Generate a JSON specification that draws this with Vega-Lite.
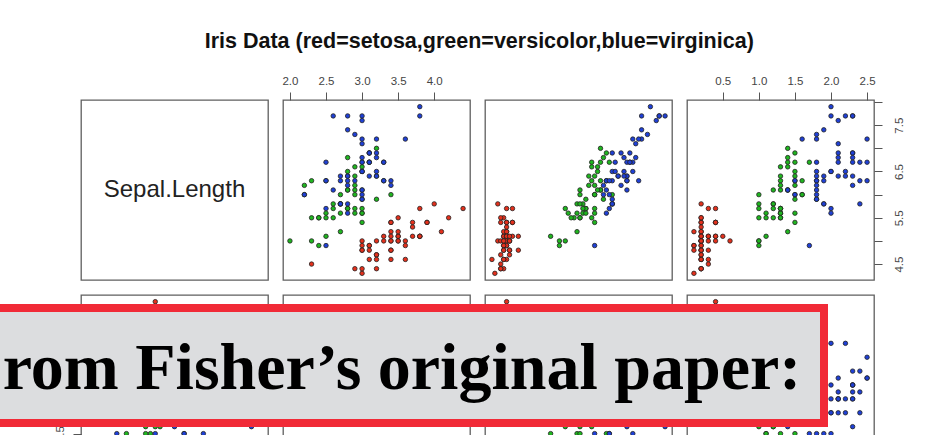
{
"$schema":"https://vega.github.io/schema/vega-lite/v6.json",
"autosize":{"type":"pad"},
"padding":{"left":-25,"top":30,"right":0,"bottom":0},
"background":"#ffffff",
"bounds":"flush",
"columns":5,
"spacing":15,
"title":{"text":"Iris Data (red=setosa,green=versicolor,blue=virginica)","font":"Liberation Sans","fontSize":21.5,"fontWeight":"bold","color":"#111111","anchor":"middle","frame":"bounds","dx":39,"offset":5,"baseline":"alphabetic"},
"config":{"view":{"stroke":"#5f5f5f","strokeWidth":1.3},"axis":{"domain":false,"grid":false,"ticks":true,"tickColor":"#555555","tickSize":8,"tickWidth":1,"labelFont":"Liberation Sans","labelFontSize":11.5,"labelColor":"#444444","labelFlush":false,"labelOverlap":false,"title":null}},
"datasets":{"iris":[
{"sl":5.1,"sw":3.5,"pl":1.4,"pw":0.2,"s":"setosa"},{"sl":4.9,"sw":3.0,"pl":1.4,"pw":0.2,"s":"setosa"},{"sl":4.7,"sw":3.2,"pl":1.3,"pw":0.2,"s":"setosa"},{"sl":4.6,"sw":3.1,"pl":1.5,"pw":0.2,"s":"setosa"},{"sl":5.0,"sw":3.6,"pl":1.4,"pw":0.2,"s":"setosa"},
{"sl":5.4,"sw":3.9,"pl":1.7,"pw":0.4,"s":"setosa"},{"sl":4.6,"sw":3.4,"pl":1.4,"pw":0.3,"s":"setosa"},{"sl":5.0,"sw":3.4,"pl":1.5,"pw":0.2,"s":"setosa"},{"sl":4.4,"sw":2.9,"pl":1.4,"pw":0.2,"s":"setosa"},{"sl":4.9,"sw":3.1,"pl":1.5,"pw":0.1,"s":"setosa"},
{"sl":5.4,"sw":3.7,"pl":1.5,"pw":0.2,"s":"setosa"},{"sl":4.8,"sw":3.4,"pl":1.6,"pw":0.2,"s":"setosa"},{"sl":4.8,"sw":3.0,"pl":1.4,"pw":0.1,"s":"setosa"},{"sl":4.3,"sw":3.0,"pl":1.1,"pw":0.1,"s":"setosa"},{"sl":5.8,"sw":4.0,"pl":1.2,"pw":0.2,"s":"setosa"},
{"sl":5.7,"sw":4.4,"pl":1.5,"pw":0.4,"s":"setosa"},{"sl":5.4,"sw":3.9,"pl":1.3,"pw":0.4,"s":"setosa"},{"sl":5.1,"sw":3.5,"pl":1.4,"pw":0.3,"s":"setosa"},{"sl":5.7,"sw":3.8,"pl":1.7,"pw":0.3,"s":"setosa"},{"sl":5.1,"sw":3.8,"pl":1.5,"pw":0.3,"s":"setosa"},
{"sl":5.4,"sw":3.4,"pl":1.7,"pw":0.2,"s":"setosa"},{"sl":5.1,"sw":3.7,"pl":1.5,"pw":0.4,"s":"setosa"},{"sl":4.6,"sw":3.6,"pl":1.0,"pw":0.2,"s":"setosa"},{"sl":5.1,"sw":3.3,"pl":1.7,"pw":0.5,"s":"setosa"},{"sl":4.8,"sw":3.4,"pl":1.9,"pw":0.2,"s":"setosa"},
{"sl":5.0,"sw":3.0,"pl":1.6,"pw":0.2,"s":"setosa"},{"sl":5.0,"sw":3.4,"pl":1.6,"pw":0.4,"s":"setosa"},{"sl":5.2,"sw":3.5,"pl":1.5,"pw":0.2,"s":"setosa"},{"sl":5.2,"sw":3.4,"pl":1.4,"pw":0.2,"s":"setosa"},{"sl":4.7,"sw":3.2,"pl":1.6,"pw":0.2,"s":"setosa"},
{"sl":4.8,"sw":3.1,"pl":1.6,"pw":0.2,"s":"setosa"},{"sl":5.4,"sw":3.4,"pl":1.5,"pw":0.4,"s":"setosa"},{"sl":5.2,"sw":4.1,"pl":1.5,"pw":0.1,"s":"setosa"},{"sl":5.5,"sw":4.2,"pl":1.4,"pw":0.2,"s":"setosa"},{"sl":4.9,"sw":3.1,"pl":1.5,"pw":0.2,"s":"setosa"},
{"sl":5.0,"sw":3.2,"pl":1.2,"pw":0.2,"s":"setosa"},{"sl":5.5,"sw":3.5,"pl":1.3,"pw":0.2,"s":"setosa"},{"sl":4.9,"sw":3.6,"pl":1.4,"pw":0.1,"s":"setosa"},{"sl":4.4,"sw":3.0,"pl":1.3,"pw":0.2,"s":"setosa"},{"sl":5.1,"sw":3.4,"pl":1.5,"pw":0.2,"s":"setosa"},
{"sl":5.0,"sw":3.5,"pl":1.3,"pw":0.3,"s":"setosa"},{"sl":4.5,"sw":2.3,"pl":1.3,"pw":0.3,"s":"setosa"},{"sl":4.4,"sw":3.2,"pl":1.3,"pw":0.2,"s":"setosa"},{"sl":5.0,"sw":3.5,"pl":1.6,"pw":0.6,"s":"setosa"},{"sl":5.1,"sw":3.8,"pl":1.9,"pw":0.4,"s":"setosa"},
{"sl":4.8,"sw":3.0,"pl":1.4,"pw":0.3,"s":"setosa"},{"sl":5.1,"sw":3.8,"pl":1.6,"pw":0.2,"s":"setosa"},{"sl":4.6,"sw":3.2,"pl":1.4,"pw":0.2,"s":"setosa"},{"sl":5.3,"sw":3.7,"pl":1.5,"pw":0.2,"s":"setosa"},{"sl":5.0,"sw":3.3,"pl":1.4,"pw":0.2,"s":"setosa"},
{"sl":7.0,"sw":3.2,"pl":4.7,"pw":1.4,"s":"versicolor"},{"sl":6.4,"sw":3.2,"pl":4.5,"pw":1.5,"s":"versicolor"},{"sl":6.9,"sw":3.1,"pl":4.9,"pw":1.5,"s":"versicolor"},{"sl":5.5,"sw":2.3,"pl":4.0,"pw":1.3,"s":"versicolor"},{"sl":6.5,"sw":2.8,"pl":4.6,"pw":1.5,"s":"versicolor"},
{"sl":5.7,"sw":2.8,"pl":4.5,"pw":1.3,"s":"versicolor"},{"sl":6.3,"sw":3.3,"pl":4.7,"pw":1.6,"s":"versicolor"},{"sl":4.9,"sw":2.4,"pl":3.3,"pw":1.0,"s":"versicolor"},{"sl":6.6,"sw":2.9,"pl":4.6,"pw":1.3,"s":"versicolor"},{"sl":5.2,"sw":2.7,"pl":3.9,"pw":1.4,"s":"versicolor"},
{"sl":5.0,"sw":2.0,"pl":3.5,"pw":1.0,"s":"versicolor"},{"sl":5.9,"sw":3.0,"pl":4.2,"pw":1.5,"s":"versicolor"},{"sl":6.0,"sw":2.2,"pl":4.0,"pw":1.0,"s":"versicolor"},{"sl":6.1,"sw":2.9,"pl":4.7,"pw":1.4,"s":"versicolor"},{"sl":5.6,"sw":2.9,"pl":3.6,"pw":1.3,"s":"versicolor"},
{"sl":6.7,"sw":3.1,"pl":4.4,"pw":1.4,"s":"versicolor"},{"sl":5.6,"sw":3.0,"pl":4.5,"pw":1.5,"s":"versicolor"},{"sl":5.8,"sw":2.7,"pl":4.1,"pw":1.0,"s":"versicolor"},{"sl":6.2,"sw":2.2,"pl":4.5,"pw":1.5,"s":"versicolor"},{"sl":5.6,"sw":2.5,"pl":3.9,"pw":1.1,"s":"versicolor"},
{"sl":5.9,"sw":3.2,"pl":4.8,"pw":1.8,"s":"versicolor"},{"sl":6.1,"sw":2.8,"pl":4.0,"pw":1.3,"s":"versicolor"},{"sl":6.3,"sw":2.5,"pl":4.9,"pw":1.5,"s":"versicolor"},{"sl":6.1,"sw":2.8,"pl":4.7,"pw":1.2,"s":"versicolor"},{"sl":6.4,"sw":2.9,"pl":4.3,"pw":1.3,"s":"versicolor"},
{"sl":6.6,"sw":3.0,"pl":4.4,"pw":1.4,"s":"versicolor"},{"sl":6.8,"sw":2.8,"pl":4.8,"pw":1.4,"s":"versicolor"},{"sl":6.7,"sw":3.0,"pl":5.0,"pw":1.7,"s":"versicolor"},{"sl":6.0,"sw":2.9,"pl":4.5,"pw":1.5,"s":"versicolor"},{"sl":5.7,"sw":2.6,"pl":3.5,"pw":1.0,"s":"versicolor"},
{"sl":5.5,"sw":2.4,"pl":3.8,"pw":1.1,"s":"versicolor"},{"sl":5.5,"sw":2.4,"pl":3.7,"pw":1.0,"s":"versicolor"},{"sl":5.8,"sw":2.7,"pl":3.9,"pw":1.2,"s":"versicolor"},{"sl":6.0,"sw":2.7,"pl":5.1,"pw":1.6,"s":"versicolor"},{"sl":5.4,"sw":3.0,"pl":4.5,"pw":1.5,"s":"versicolor"},
{"sl":6.0,"sw":3.4,"pl":4.5,"pw":1.6,"s":"versicolor"},{"sl":6.7,"sw":3.1,"pl":4.7,"pw":1.5,"s":"versicolor"},{"sl":6.3,"sw":2.3,"pl":4.4,"pw":1.3,"s":"versicolor"},{"sl":5.6,"sw":3.0,"pl":4.1,"pw":1.3,"s":"versicolor"},{"sl":5.5,"sw":2.5,"pl":4.0,"pw":1.3,"s":"versicolor"},
{"sl":5.5,"sw":2.6,"pl":4.4,"pw":1.2,"s":"versicolor"},{"sl":6.1,"sw":3.0,"pl":4.6,"pw":1.4,"s":"versicolor"},{"sl":5.8,"sw":2.6,"pl":4.0,"pw":1.2,"s":"versicolor"},{"sl":5.0,"sw":2.3,"pl":3.3,"pw":1.0,"s":"versicolor"},{"sl":5.6,"sw":2.7,"pl":4.2,"pw":1.3,"s":"versicolor"},
{"sl":5.7,"sw":3.0,"pl":4.2,"pw":1.2,"s":"versicolor"},{"sl":5.7,"sw":2.9,"pl":4.2,"pw":1.3,"s":"versicolor"},{"sl":6.2,"sw":2.9,"pl":4.3,"pw":1.3,"s":"versicolor"},{"sl":5.1,"sw":2.5,"pl":3.0,"pw":1.1,"s":"versicolor"},{"sl":5.7,"sw":2.8,"pl":4.1,"pw":1.3,"s":"versicolor"},
{"sl":6.3,"sw":3.3,"pl":6.0,"pw":2.5,"s":"virginica"},{"sl":5.8,"sw":2.7,"pl":5.1,"pw":1.9,"s":"virginica"},{"sl":7.1,"sw":3.0,"pl":5.9,"pw":2.1,"s":"virginica"},{"sl":6.3,"sw":2.9,"pl":5.6,"pw":1.8,"s":"virginica"},{"sl":6.5,"sw":3.0,"pl":5.8,"pw":2.2,"s":"virginica"},
{"sl":7.6,"sw":3.0,"pl":6.6,"pw":2.1,"s":"virginica"},{"sl":4.9,"sw":2.5,"pl":4.5,"pw":1.7,"s":"virginica"},{"sl":7.3,"sw":2.9,"pl":6.3,"pw":1.8,"s":"virginica"},{"sl":6.7,"sw":2.5,"pl":5.8,"pw":1.8,"s":"virginica"},{"sl":7.2,"sw":3.6,"pl":6.1,"pw":2.5,"s":"virginica"},
{"sl":6.5,"sw":3.2,"pl":5.1,"pw":2.0,"s":"virginica"},{"sl":6.4,"sw":2.7,"pl":5.3,"pw":1.9,"s":"virginica"},{"sl":6.8,"sw":3.0,"pl":5.5,"pw":2.1,"s":"virginica"},{"sl":5.7,"sw":2.5,"pl":5.0,"pw":2.0,"s":"virginica"},{"sl":5.8,"sw":2.8,"pl":5.1,"pw":2.4,"s":"virginica"},
{"sl":6.4,"sw":3.2,"pl":5.3,"pw":2.3,"s":"virginica"},{"sl":6.5,"sw":3.0,"pl":5.5,"pw":1.8,"s":"virginica"},{"sl":7.7,"sw":3.8,"pl":6.7,"pw":2.2,"s":"virginica"},{"sl":7.7,"sw":2.6,"pl":6.9,"pw":2.3,"s":"virginica"},{"sl":6.0,"sw":2.2,"pl":5.0,"pw":1.5,"s":"virginica"},
{"sl":6.9,"sw":3.2,"pl":5.7,"pw":2.3,"s":"virginica"},{"sl":5.6,"sw":2.8,"pl":4.9,"pw":2.0,"s":"virginica"},{"sl":7.7,"sw":2.8,"pl":6.7,"pw":2.0,"s":"virginica"},{"sl":6.3,"sw":2.7,"pl":4.9,"pw":1.8,"s":"virginica"},{"sl":6.7,"sw":3.3,"pl":5.7,"pw":2.1,"s":"virginica"},
{"sl":7.2,"sw":3.2,"pl":6.0,"pw":1.8,"s":"virginica"},{"sl":6.2,"sw":2.8,"pl":4.8,"pw":1.8,"s":"virginica"},{"sl":6.1,"sw":3.0,"pl":4.9,"pw":1.8,"s":"virginica"},{"sl":6.4,"sw":2.8,"pl":5.6,"pw":2.1,"s":"virginica"},{"sl":7.2,"sw":3.0,"pl":5.8,"pw":1.6,"s":"virginica"},
{"sl":7.4,"sw":2.8,"pl":6.1,"pw":1.9,"s":"virginica"},{"sl":7.9,"sw":3.8,"pl":6.4,"pw":2.0,"s":"virginica"},{"sl":6.4,"sw":2.8,"pl":5.6,"pw":2.2,"s":"virginica"},{"sl":6.3,"sw":2.8,"pl":5.1,"pw":1.5,"s":"virginica"},{"sl":6.1,"sw":2.6,"pl":5.6,"pw":1.4,"s":"virginica"},
{"sl":7.7,"sw":3.0,"pl":6.1,"pw":2.3,"s":"virginica"},{"sl":6.3,"sw":3.4,"pl":5.6,"pw":2.4,"s":"virginica"},{"sl":6.4,"sw":3.1,"pl":5.5,"pw":1.8,"s":"virginica"},{"sl":6.0,"sw":3.0,"pl":4.8,"pw":1.8,"s":"virginica"},{"sl":6.9,"sw":3.1,"pl":5.4,"pw":2.1,"s":"virginica"},
{"sl":6.7,"sw":3.1,"pl":5.6,"pw":2.4,"s":"virginica"},{"sl":6.9,"sw":3.1,"pl":5.1,"pw":2.3,"s":"virginica"},{"sl":5.8,"sw":2.7,"pl":5.1,"pw":1.9,"s":"virginica"},{"sl":6.8,"sw":3.2,"pl":5.9,"pw":2.3,"s":"virginica"},{"sl":6.7,"sw":3.3,"pl":5.7,"pw":2.5,"s":"virginica"},
{"sl":6.7,"sw":3.0,"pl":5.2,"pw":2.3,"s":"virginica"},{"sl":6.3,"sw":2.5,"pl":5.0,"pw":1.9,"s":"virginica"},{"sl":6.5,"sw":3.0,"pl":5.2,"pw":2.0,"s":"virginica"},{"sl":6.2,"sw":3.4,"pl":5.4,"pw":2.3,"s":"virginica"},{"sl":5.9,"sw":3.0,"pl":5.1,"pw":1.8,"s":"virginica"}
]},
"concat":[
   {"width":86,"height":180,"view":{"stroke":null},"data":{"values":[{"t":""}]},"mark":{"type":"text"},"encoding":{"text":{"field":"t"}}},
   {"width":187,"height":180,"view":{"stroke":"#5f5f5f","strokeWidth":1.3},"data":{"values":[{"t":"Sepal.Length"}]},"mark":{"type":"text","font":"Liberation Sans","fontSize":24,"color":"#222222"},"encoding":{"text":{"field":"t"}}},
   {"width":187,"height":180,"data":{"name":"iris"},"mark":{"type":"circle","size":20,"stroke":"#222222","strokeWidth":0.8,"opacity":1},
    "encoding":{"x":{"field":"sw","type":"quantitative","scale":{"domain":[1.904,4.496],"nice":false,"zero":false},"axis":{"orient":"top","values":[2.0,2.5,3.0,3.5,4.0],"format":".1f","labelPadding":6}},
     "y":{"field":"sl","type":"quantitative","scale":{"domain":[4.156,8.044],"nice":false,"zero":false},"axis":null},
     "color":{"field":"s","type":"nominal","scale":{"domain":["setosa","versicolor","virginica"],"range":["#e3301c","#1fb51f","#1f40d6"]},"legend":null}}},
   {"width":187,"height":180,"data":{"name":"iris"},"mark":{"type":"circle","size":20,"stroke":"#222222","strokeWidth":0.8,"opacity":1},
    "encoding":{"x":{"field":"pl","type":"quantitative","scale":{"domain":[0.764,7.136],"nice":false,"zero":false},"axis":null},
     "y":{"field":"sl","type":"quantitative","scale":{"domain":[4.156,8.044],"nice":false,"zero":false},"axis":null},
     "color":{"field":"s","type":"nominal","legend":null}}},
   {"width":187,"height":180,"data":{"name":"iris"},"mark":{"type":"circle","size":20,"stroke":"#222222","strokeWidth":0.8,"opacity":1},
    "encoding":{"x":{"field":"pw","type":"quantitative","scale":{"domain":[0.004,2.596],"nice":false,"zero":false},"axis":{"orient":"top","values":[0.5,1.0,1.5,2.0,2.5],"format":".1f","labelPadding":6}},
     "y":{"field":"sl","type":"quantitative","scale":{"domain":[4.156,8.044],"nice":false,"zero":false},"axis":{"orient":"right","values":[4.5,5.0,5.5,6.0,6.5,7.0,7.5,8.0],"labelExpr":"(datum.value * 2) % 2 == 1 ? format(datum.value, '.1f') : ''","labelAngle":270,"labelAlign":"center","labelBaseline":"top","labelPadding":11}},
     "color":{"field":"s","type":"nominal","legend":null}}},
   {"width":86,"height":180,"view":{"stroke":null},"data":{"values":[{"t":""}]},"mark":{"type":"text"},"encoding":{"text":{"field":"t"}}},
   {"width":187,"height":180,"data":{"name":"iris"},"mark":{"type":"circle","size":20,"stroke":"#222222","strokeWidth":0.8,"opacity":1},
    "encoding":{"x":{"field":"sl","type":"quantitative","scale":{"domain":[4.156,8.044],"nice":false,"zero":false},"axis":null},
     "y":{"field":"sw","type":"quantitative","scale":{"domain":[1.904,4.496],"nice":false,"zero":false},"axis":{"orient":"left","values":[2.0,2.5,3.0,3.5,4.0],"format":".1f","labelAngle":270,"labelAlign":"center","labelBaseline":"bottom","labelPadding":8}},
     "color":{"field":"s","type":"nominal","legend":null}}},
   {"width":187,"height":180,"view":{"stroke":"#5f5f5f","strokeWidth":1.3},"data":{"values":[{"t":"Sepal.Width"}]},"mark":{"type":"text","font":"Liberation Sans","fontSize":24,"color":"#222222"},"encoding":{"text":{"field":"t"}}},
   {"width":187,"height":180,"data":{"name":"iris"},"mark":{"type":"circle","size":20,"stroke":"#222222","strokeWidth":0.8,"opacity":1},
    "encoding":{"x":{"field":"pl","type":"quantitative","scale":{"domain":[0.764,7.136],"nice":false,"zero":false},"axis":null},
     "y":{"field":"sw","type":"quantitative","scale":{"domain":[1.904,4.496],"nice":false,"zero":false},"axis":null},
     "color":{"field":"s","type":"nominal","legend":null}}},
   {"width":187,"height":180,
    "layer":[
     {"data":{"name":"iris"},"mark":{"type":"circle","size":20,"stroke":"#222222","strokeWidth":0.8,"opacity":1},
      "encoding":{"x":{"field":"pw","type":"quantitative","scale":{"domain":[0.004,2.596],"nice":false,"zero":false},"axis":null},
       "y":{"field":"sw","type":"quantitative","scale":{"domain":[1.904,4.496],"nice":false,"zero":false},"axis":null},
       "color":{"field":"s","type":"nominal","legend":null}}},
     {"data":{"values":[{"a":0,"b":1}]},"mark":{"type":"rect","fill":"#dcdddf","stroke":"#f12a37","strokeWidth":8,"xOffset":-707,"x2Offset":-50,"yOffset":13,"y2Offset":-52},
      "encoding":{"x":{"field":"a","type":"quantitative","scale":{"domain":[0,1],"nice":false,"zero":false},"axis":null},"x2":{"field":"b"},
       "y":{"field":"b","type":"quantitative","scale":{"domain":[0,1],"nice":false,"zero":false},"axis":null},"y2":{"field":"a"}}},
     {"data":{"values":[{"m":0.5,"t":"rom Fisher’s original paper:"}]},"mark":{"type":"text","font":"Liberation Serif","fontWeight":"bold","fontSize":66,"color":"#000000","xOffset":-378.5,"yOffset":-16.5},
      "encoding":{"x":{"field":"m","type":"quantitative","scale":{"domain":[0,1],"nice":false,"zero":false},"axis":null},
       "y":{"field":"m","type":"quantitative","scale":{"domain":[0,1],"nice":false,"zero":false},"axis":null},"text":{"field":"t"}}}
    ],
    "resolve":{"scale":{"x":"independent","y":"independent"}}}
]
}
